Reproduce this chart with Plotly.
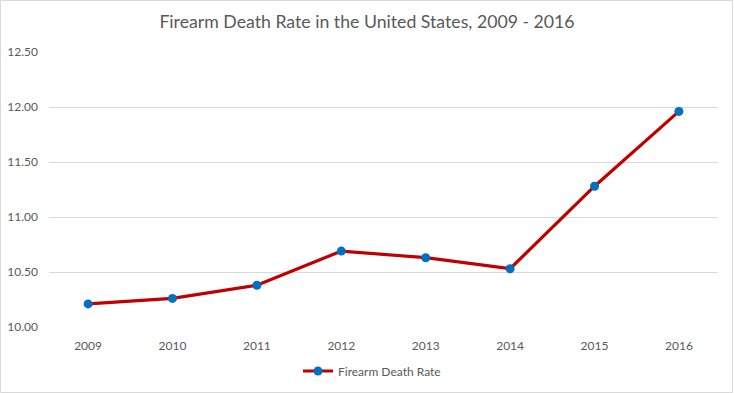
import plotly.graph_objects as go

years = ["2009", "2010", "2011", "2012", "2013", "2014", "2015", "2016"]
rates = [10.21, 10.26, 10.38, 10.69, 10.63, 10.53, 11.28, 11.96]
series_name = "Firearm Death Rate"
title_text = "Firearm Death Rate in the United States, 2009 - 2016"

W, H = 734, 393
ml, mr, mt, mb = 49, 16, 52, 66
pw, ph = W - ml - mr, H - mt - mb


def px_x(x):
    return (x - ml) / pw


def px_y(y):
    return (H - mb - y) / ph


fig = go.Figure()
fig.add_trace(go.Scatter(
    x=years, y=rates, name=series_name, mode="lines+markers",
    line=dict(color="#C00000", width=3.2),
    marker=dict(color="#0070C0", size=9),
))

fig.update_layout(
    width=W, height=H,
    margin=dict(l=ml, r=mr, t=mt, b=mb, autoexpand=False),
    paper_bgcolor="white", plot_bgcolor="white",
    title=dict(text=title_text, x=0.5, xanchor="center", y=1 - 22 / H, yanchor="middle",
               font=dict(family="Lato", size=17.7, color="#595959")),
    font=dict(family="Lato", size=12, color="#595959"),
    xaxis=dict(showgrid=False, showline=False, ticks="", zeroline=False, automargin=False,
               tickfont=dict(size=12, color="#595959"), ticklabelstandoff=10),
    yaxis=dict(range=[10, 12.5], dtick=0.5, tickformat=".2f", showgrid=True, automargin=False,
               gridcolor="#D9D9D9", gridwidth=1, zeroline=False, showline=False, ticks="",
               tickfont=dict(size=12, color="#595959"), ticklabelstandoff=10),
    showlegend=True,
    legend=dict(orientation="h", xref="container", yref="container",
                x=372 / W, xanchor="center", y=1 - 371 / H, yanchor="middle",
                font=dict(size=12, color="#595959"), itemwidth=30),
    shapes=[dict(type="rect", xref="paper", yref="paper",
                 x0=px_x(0.5), x1=px_x(732.5),
                 y0=px_y(392.5), y1=px_y(0.5),
                 line=dict(color="#D9D9D9", width=1), layer="below")],
)

css_js = (
    "document.documentElement.style.margin='0';"
    "document.documentElement.style.overflow='hidden';"
    "document.body.style.margin='0';document.body.style.padding='0';"
    "document.body.style.overflow='hidden';"
)
fig.write_html("out.html", config={"displayModeBar": False}, post_script=css_js)
